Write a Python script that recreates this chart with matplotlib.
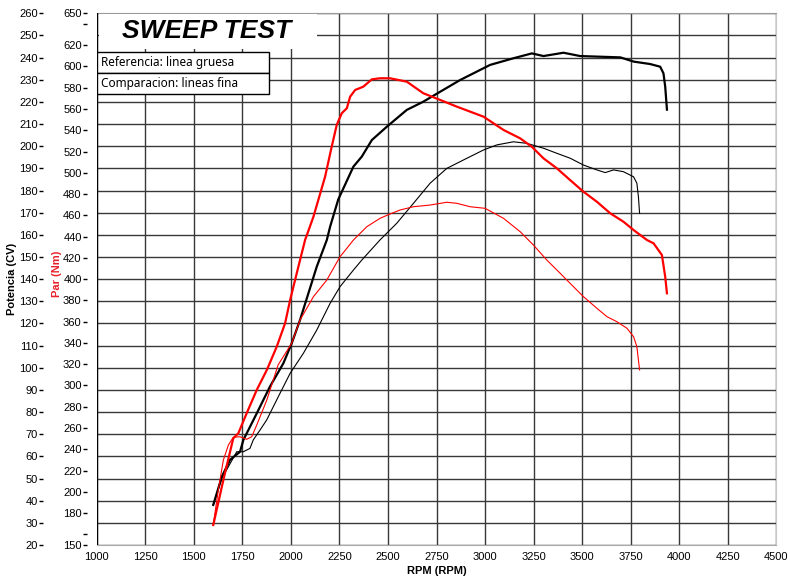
import matplotlib
matplotlib.use('Agg')
import matplotlib.pyplot as plt
from matplotlib.patches import Rectangle

plt.rcParams['font.family'] = ['Liberation Sans Narrow', 'Liberation Sans', 'DejaVu Sans']

# ---- potencia (CV), linea gruesa = referencia
rpm_pot_ref = [1600, 1644, 1686, 1738, 1755, 1824, 1892, 1961, 2004, 2047, 2090, 2133,
               2185, 2202, 2244, 2322, 2365, 2417, 2494, 2597, 2682, 2769, 2872, 2940,
               3026, 3146, 3241, 3301, 3404, 3490, 3594, 3697, 3765, 3850, 3902, 3919,
               3928, 3937]
pot_ref = [38.1, 50.8, 58.4, 62.1, 67.4, 79.4, 91.5, 102.0, 111.0, 121.6, 133.6, 145.6,
           157.7, 163.7, 176.0, 190.8, 195.3, 202.8, 208.8, 216.4, 220.1, 224.6, 229.9, 232.9,
           236.7, 239.7, 241.9, 240.7, 242.2, 240.7, 240.4, 240.1, 238.2, 237.1, 235.9, 232.9,
           226.9, 216.5]

# ---- potencia (CV), linea fina = comparacion
rpm_pot_cmp = [1600, 1645, 1721, 1755, 1789, 1806, 1841, 1875, 1944, 1996, 2064, 2133,
               2202, 2253, 2322, 2365, 2459, 2545, 2631, 2717, 2803, 2889, 2992, 3061,
               3146, 3215, 3301, 3370, 3438, 3507, 3576, 3619, 3662, 3713, 3765, 3782,
               3790, 3796]
pot_cmp = [38.1, 50.2, 62.1, 62.1, 63.6, 67.4, 71.9, 76.4, 88.5, 97.5, 106.5, 117.0,
           129.1, 136.6, 144.1, 148.6, 157.7, 165.2, 174.2, 183.3, 190.0, 193.8, 198.3, 200.6,
           202.0, 201.3, 199.1, 196.8, 194.6, 191.5, 189.3, 188.1, 189.3, 188.5, 186.2, 183.3,
           177.2, 169.7]

# ---- par (Nm), linea gruesa = referencia
rpm_par_ref = [1600, 1652, 1703, 1729, 1772, 1824, 1876, 1927, 1970, 1996, 2030, 2073,
               2116, 2176, 2210, 2236, 2262, 2288, 2305, 2331, 2373, 2417, 2459, 2510,
               2597, 2682, 2769, 2855, 2992, 3095, 3181, 3241, 3301, 3370, 3438, 3507,
               3576, 3645, 3713, 3765, 3834, 3868, 3911, 3928, 3937]
par_ref = [168.8, 211.1, 250.3, 255.0, 273.8, 295.8, 314.6, 336.5, 358.5, 380.4, 405.5, 436.8,
           458.7, 496.3, 524.5, 545.0, 556.0, 560.7, 571.6, 577.9, 581.0, 587.9, 588.9, 588.9,
           585.7, 574.8, 568.5, 562.2, 552.8, 540.3, 532.4, 524.5, 513.6, 504.2, 493.2, 482.2,
           472.8, 461.9, 454.0, 446.2, 436.8, 433.7, 422.7, 402.3, 386.7]

# ---- par (Nm), linea fina = comparacion
rpm_par_cmp = [1600, 1626, 1652, 1678, 1703, 1738, 1772, 1798, 1824, 1876, 1934, 2004,
               2047, 2116, 2185, 2253, 2288, 2322, 2391, 2459, 2511, 2562, 2631, 2717,
               2803, 2855, 2923, 3000, 3095, 3181, 3249, 3318, 3387, 3438, 3507, 3576,
               3628, 3679, 3731, 3765, 3782, 3790, 3796]
par_cmp = [168.8, 201.7, 229.9, 244.0, 251.3, 251.8, 249.4, 251.8, 262.8, 286.4, 319.3, 339.7,
           361.6, 383.5, 399.2, 421.1, 429.0, 436.8, 449.3, 457.2, 461.3, 465.0, 468.1, 469.7,
           472.3, 471.3, 468.1, 466.6, 457.2, 444.6, 432.1, 418.0, 405.5, 396.1, 383.5, 372.6,
           364.7, 360.0, 353.8, 345.9, 336.5, 324.0, 314.6]

rpm_ticks = list(range(1000, 4501, 250))
pot_ticks = list(range(20, 261, 10))
par_ticks = [150, 160] + list(range(180, 621, 20)) + [640, 650]
par_labels = ['' if t in (160, 640) else str(t) for t in par_ticks]

fig = plt.figure(figsize=(7.9, 5.78), dpi=100)
ax = fig.add_axes([0.1225, 0.0571, 0.8601, 0.9199])
ax.set_xlim(1000, 4500)
ax.set_ylim(20, 260)
ax.set_xticks(rpm_ticks)
ax.set_yticks(pot_ticks)
ax.set_axisbelow(True)
ax.grid(True, color='#383838', lw=1.0)
ax.axvline(1000, color='black', lw=1.6, zorder=3)

ax.spines['left'].set_position(('outward', 38.5))
ax.spines['left'].set_color('none')
ax.spines['top'].set_color('#999999')
ax.spines['right'].set_color('#c8c8c8')
ax.spines['bottom'].set_color('#aaaaaa')
ax.tick_params(axis='y', direction='out', length=2.9, width=1, pad=1.2, labelsize=8)
ax.tick_params(axis='x', length=0, pad=5, labelsize=8)

ax.plot(rpm_pot_ref, pot_ref, color='black', lw=1.6, zorder=4)
ax.plot(rpm_pot_cmp, pot_cmp, color='black', lw=0.8, zorder=4)

axp = ax.twinx()
axp.set_ylim(150, 650)
axp.set_yticks(par_ticks)
axp.set_yticklabels(par_labels)
axp.yaxis.set_ticks_position('left')
axp.yaxis.set_label_position('left')
for s in ['right', 'top', 'bottom']:
    axp.spines[s].set_visible(False)
axp.spines['left'].set_position(('outward', 6.8))
axp.spines['left'].set_color('none')
axp.tick_params(axis='y', direction='out', length=2.9, width=1, pad=1.2, labelsize=8)

axp.plot(rpm_par_ref, par_ref, color='#ff0000', lw=1.6)
axp.plot(rpm_par_cmp, par_cmp, color='#ff0000', lw=0.8)

ax.set_xlabel('RPM (RPM)', fontsize=8, fontweight='bold', labelpad=3)
ax.set_ylabel('Potencia (CV)', fontsize=8, fontweight='bold')
ax.yaxis.set_label_coords(-0.1174, 0.5)
axp.set_ylabel('Par (Nm)', fontsize=8, fontweight='bold', color='#e8202a')
axp.yaxis.set_label_coords(-0.0512, 0.51)

# titulo
axp.add_patch(Rectangle((0.003, 0.933), 0.321, 0.065, transform=axp.transAxes,
                        facecolor='white', edgecolor='none', zorder=5))
axp.text(0.161, 0.966, 'SWEEP TEST', transform=axp.transAxes, fontsize=19,
         fontweight='bold', fontstyle='italic', family=['Liberation Sans', 'DejaVu Sans'],
         ha='center', va='center', zorder=6)

# cajas de leyenda
leyenda = ['Referencia: linea gruesa', 'Comparacion: lineas fina']
y0 = 0.927
h = 0.0395
for i, txt in enumerate(leyenda):
    yb = y0 - (i + 1) * h
    axp.add_patch(Rectangle((0.0, yb), 0.2534, h, transform=axp.transAxes,
                            facecolor='white', edgecolor='black', lw=1.0, zorder=6))
    axp.text(0.006, yb + h / 2, txt, transform=axp.transAxes, fontsize=8.5,
             family=['Noto Sans', 'DejaVu Sans'], ha='left', va='center', zorder=7)

fig.savefig('out.png', dpi=100)
